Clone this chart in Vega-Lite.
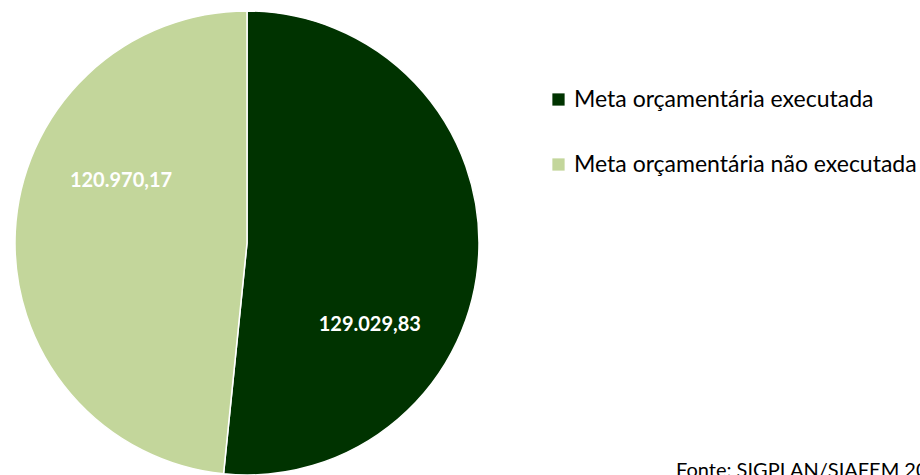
{
  "$schema": "https://vega.github.io/schema/vega-lite/v6.json",
  "width": 494,
  "height": 464,
  "autosize": {"type": "none"},
  "padding": {"left": 0, "top": 11, "right": 426, "bottom": 0},
  "background": "white",
  "config": {"view": {"stroke": null}, "font": "Lato"},
  "title": {
    "text": "Fonte: SIGPLAN/SIAFEM 2019",
    "orient": "bottom",
    "anchor": "start",
    "frame": "group",
    "offset": 0,
    "dx": 676,
    "dy": -17,
    "fontSize": 20,
    "fontWeight": "normal",
    "color": "#000000",
    "font": "Lato"
  },
  "data": {
    "values": [
      {"categoria": "Meta orçamentária executada", "valor": 129029.83, "rotulo": "129.029,83"},
      {"categoria": "Meta orçamentária não executada", "valor": 120970.17, "rotulo": "120.970,17"}
    ]
  },
  "layer": [
    {
      "mark": {"type": "arc", "outerRadius": 232, "stroke": "white", "strokeWidth": 1.5},
      "encoding": {
        "theta": {"field": "valor", "type": "quantitative", "stack": true, "scale": {"domain": [0, 250000]}},
        "order": {"field": "categoria", "type": "nominal"},
        "color": {
          "field": "categoria",
          "type": "nominal",
          "scale": {
            "domain": ["Meta orçamentária executada", "Meta orçamentária não executada"],
            "range": ["#003300", "#c3d69b"]
          },
          "legend": {
            "title": null,
            "orient": "none",
            "legendX": 547,
            "legendY": 77,
            "symbolType": "square",
            "symbolSize": 150,
            "symbolStrokeWidth": 0,
            "labelFontSize": 23,
            "labelFont": "Lato",
            "labelColor": "#000000",
            "labelOffset": 4,
            "rowPadding": 41,
            "labelLimit": 400
          }
        }
      }
    },
    {
      "transform": [
        {"filter": "datum.categoria == 'Meta orçamentária executada'"}
      ],
      "mark": {"type": "text", "radius": 148, "dx": -25, "dy": 75, "color": "white", "fontSize": 20, "fontWeight": "bold", "font": "Lato"},
      "encoding": {
        "theta": {"field": "valor", "type": "quantitative", "stack": true},
        "text": {"field": "rotulo"}
      }
    },
    {
      "transform": [
        {"stack": "valor", "groupby": [], "sort": [{"field": "categoria", "order": "ascending"}], "as": ["v0", "v1"]},
        {"filter": "datum.categoria == 'Meta orçamentária não executada'"}
      ],
      "mark": {"type": "text", "radius": 140, "dx": -126, "dy": 78, "color": "white", "fontSize": 20, "fontWeight": "bold", "font": "Lato"},
      "encoding": {
        "theta": {"field": "v1", "type": "quantitative", "stack": null},
        "text": {"field": "rotulo"}
      }
    }
  ]
}
